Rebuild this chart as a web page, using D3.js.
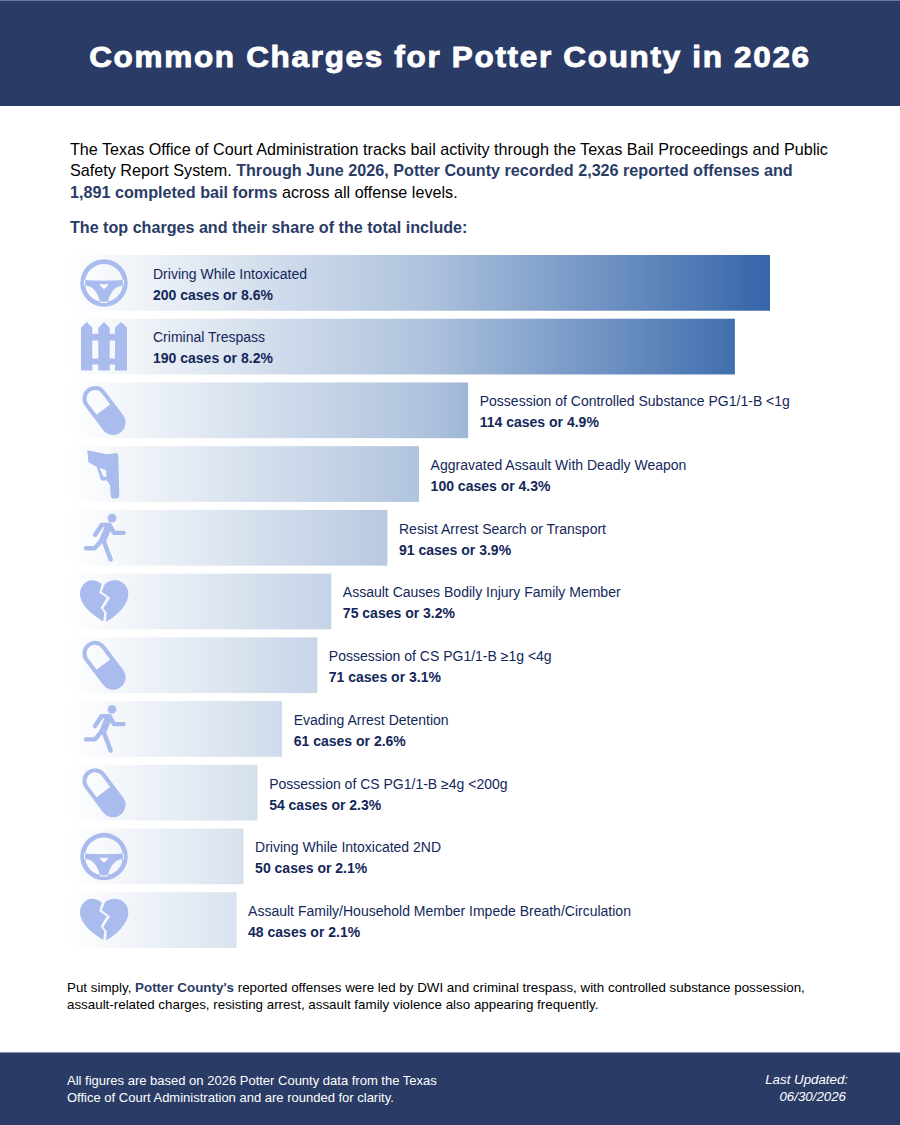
<!DOCTYPE html>
<html><head><meta charset="utf-8">
<script src="https://cdn.jsdelivr.net/npm/d3@7/dist/d3.min.js"></script>
<style>html,body{margin:0;padding:0;background:#fff}svg{display:block}text{font-family:"Liberation Sans",Arial,sans-serif}</style>
</head><body><div id="c"></div>
<script>
const charges=["Driving While Intoxicated","Criminal Trespass","Possession of Controlled Substance PG1/1-B <1g","Aggravated Assault With Deadly Weapon","Resist Arrest Search or Transport","Assault Causes Bodily Injury Family Member","Possession of CS PG1/1-B ≥1g <4g","Evading Arrest Detention","Possession of CS PG1/1-B ≥4g <200g","Driving While Intoxicated 2ND","Assault Family/Household Member Impede Breath/Circulation"];
const cases=[200,190,114,100,91,75,71,61,54,50,48];
const shares=["8.6%","8.2%","4.9%","4.3%","3.9%","3.2%","3.1%","2.6%","2.3%","2.1%","2.1%"];
const icons=["wheel","fence","pill","gun","run","heart","pill","run","pill","wheel","heart"];
const navy="#2a3c66",ink="#14275a",iconCol="#aabbee";
const W=900,H=1125;
const svg=d3.select("#c").append("svg").attr("width",W).attr("height",H).attr("viewBox",`0 0 ${W} ${H}`);
const x=d3.scaleLinear().domain([0,200]).range([68,770]);
const y=d3.scaleBand().domain(d3.range(charges.length)).range([255,948]).paddingInner(0.1255).paddingOuter(0);
const defs=svg.append("defs");
const g=defs.append("linearGradient").attr("id","barGrad").attr("gradientUnits","userSpaceOnUse").attr("x1",x(0)).attr("x2",x(200)).attr("y1",0).attr("y2",0);
[[0,"#ffffff"],[0.5,"#b0c4de"],[1,"#3465a9"]].forEach(s=>g.append("stop").attr("offset",s[0]).attr("stop-color",s[1]));

svg.append("rect").attr("width",W).attr("height",106).attr("fill",navy);
svg.append("rect").attr("width",W).attr("height",1).attr("fill","#6b7896");
svg.append("text").attr("transform","translate(450,67) scale(1.05,1)").attr("text-anchor","middle").attr("fill","#fff").attr("stroke","#fff").attr("stroke-width",0.9).attr("font-weight","700").attr("font-size",30).attr("letter-spacing",1.6).text("Common Charges for Potter County in 2026");

function rich(xp,yp,size,parts){const t=svg.append("text").attr("x",xp).attr("y",yp).attr("font-size",size).attr("fill","#000");
 parts.forEach(p=>t.append("tspan").attr("font-weight",p[1]?"700":"400").attr("fill",p[1]?navy:"#000").text(p[0]));return t;}
rich(70,155,16.17,[["The Texas Office of Court Administration tracks bail activity through the Texas Bail Proceedings and Public",0]]);
rich(70,176,16.17,[["Safety Report System. ",0],["Through June 2026, Potter County recorded 2,326 reported offenses and",1]]);
rich(70,198,16.17,[["1,891 completed bail forms",1],[" across all offense levels.",0]]);
rich(70,233,16.12,[["The top charges and their share of the total include:",1]]);

const iconPaths={
 wheel:"M0,-23.7A23.7,23.7 0 1,1 0,23.7A23.7,23.7 0 1,1 0,-23.7ZM0,-19A19,19 0 1,0 0,19A19,19 0 1,0 0,-19ZM-20,-3.2C-8,-2 8,-2 20,-3.2L20,2.5C12,2.5 7,7 3.5,20L-3.5,20C-7,7 -12,2.5 -20,2.5ZM-4.5,1C-2,1.3 2,1.3 4.5,1C3.5,3.5 1.5,5 0,6C-1.5,5 -3.5,3.5 -4.5,1Z",
 fence:"M-23,-19L-17.3,-24.7L-11.7,-19V-13H-5.7V-19L0,-24.7L5.7,-19V-13H11V-19L17,-24.7L23,-19V23.7H11V17.7H5.7V23.7H-5.7V17.7H-11.7V23.7H-23ZM-11.7,-6.3V11.7H-5.7V-6.3ZM5.7,-6.3V11.7H11V-6.3Z",
 gun:"M-16.7,-24L2.7,-20L12.7,-21.3L14.3,-19L15.3,22C15,24 12,24.5 9.3,24.3C7.5,24 6.7,23 6.7,21L6,11L2.7,6L-1,6.5C-3,6 -4,4.5 -4,2.7L-7.3,-7.3L-15.7,-12.3ZM-4.5,-6.5L2,-4L2.5,3L-1,2Z",
 heart:"M-2.3,-17.7C-6,-21 -10,-21.5 -12,-21.5C-19,-21.5 -24,-15 -24,-8C-24,3 -12,13 -0.7,19.7L0.3,11L-3.3,6L2.7,-4L-4.7,-9ZM1,-18C4,-21 8,-21.5 11,-21.5C19,-21.5 24.3,-15 24.3,-8C24.3,3 13,14 2,20.3L2.7,11L-0.7,6.7L6,-3.7L-2.3,-10Z"};
const rows=svg.append("g").selectAll("g").data(charges).join("g");
rows.append("rect").attr("x",x(0)).attr("y",(d,i)=>y(i)).attr("width",(d,i)=>x(cases[i])-x(0)).attr("height",y.bandwidth()).attr("fill","url(#barGrad)");
rows.each(function(d,i){
 const ic=d3.select(this).append("g").attr("fill",iconCol).attr("fill-rule","evenodd").attr("transform",`translate(104,${y(i)+28})`);
 const k=icons[i];
 if(iconPaths[k]) ic.append("path").attr("d",iconPaths[k]);
 if(k==="pill"){
  const p=ic.append("g").attr("transform","rotate(-37)");
  p.append("path").attr("d","M-12.5,0V-15A12.5,12.5 0 0,1 12.5,-15V0ZM-8.5,-1H8.5V-15A8.5,8.5 0 0,0 -8.5,-15Z");
  p.append("path").attr("d","M-12.5,-0.5V15A12.5,12.5 0 0,0 12.5,15V-0.5Z");
 }
 if(k==="run"){
  ic.append("circle").attr("cx",8).attr("cy",-19.7).attr("r",4.4);
  const s=ic.append("g").attr("fill","none").attr("stroke",iconCol).attr("stroke-linecap","round").attr("stroke-linejoin","round");
  s.append("path").attr("stroke-width",4.4).attr("d","M19.5,-5L10,-5L5.5,-13L-2.3,-13L-9,-3M-3,3L-9,10.3L-18,10.3M-0.7,2L6.7,21.5");
  s.append("path").attr("stroke-width",7).attr("d","M4.5,-11.5L-1,2");
 }
});
const lx=i=>i<2?153:x(cases[i])+11.6;
rows.append("text").attr("x",(d,i)=>lx(i)).attr("y",(d,i)=>y(i)+23.7).attr("font-size",14).attr("fill",ink).text(d=>d);
rows.append("text").attr("x",(d,i)=>lx(i)).attr("y",(d,i)=>y(i)+44.7).attr("font-size",14).attr("font-weight",700).attr("fill",ink).text((d,i)=>`${cases[i]} cases or ${shares[i]}`);

rich(67,992,13.37,[["Put simply, ",0],["Potter County's",1],[" reported offenses were led by DWI and criminal trespass, with controlled substance possession,",0]]);
rich(67,1009,13.37,[["assault-related charges, resisting arrest, assault family violence also appearing frequently.",0]]);

svg.append("rect").attr("y",1052).attr("width",W).attr("height",73).attr("fill",navy);
svg.append("rect").attr("y",1052).attr("width",W).attr("height",1).attr("fill","#8a94ac");
[["All figures are based on 2026 Potter County data from the Texas",1085],["Office of Court Administration and are rounded for clarity.",1102]].forEach(l=>svg.append("text").attr("x",67).attr("y",l[1]).attr("font-size",13).attr("fill","#fff").text(l[0]));
[["Last Updated:",1084,848],["06/30/2026",1101,846]].forEach(l=>svg.append("text").attr("x",l[2]).attr("y",l[1]).attr("text-anchor","end").attr("font-style","italic").attr("font-size",13.3).attr("fill","#fff").text(l[0]));
</script></body></html>
